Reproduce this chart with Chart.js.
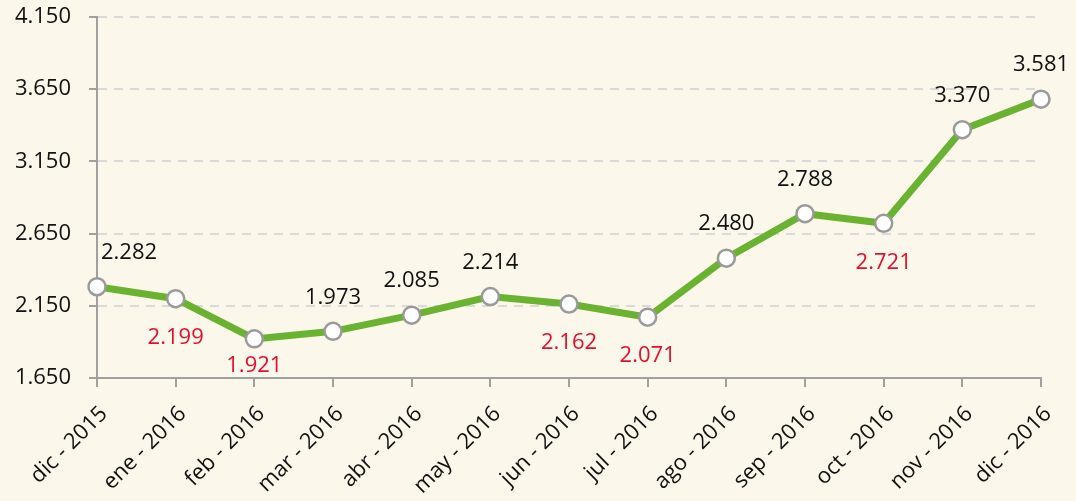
<!DOCTYPE html>
<html>
<head>
<meta charset="utf-8">
<script src="https://cdn.jsdelivr.net/npm/chart.js@4.4.1/dist/chart.umd.min.js"></script>
<style>
  html, body { margin: 0; padding: 0; background: #fbf7eb; }
  #wrap { width: 1076px; height: 501px; position: relative; }
</style>
</head>
<body>
<div id="wrap"><canvas id="myChart" width="1076" height="501"></canvas></div>
<script>
const months = ['dic - 2015', 'ene - 2016', 'feb - 2016', 'mar - 2016', 'abr - 2016', 'may - 2016',
  'jun - 2016', 'jul - 2016', 'ago - 2016', 'sep - 2016', 'oct - 2016', 'nov - 2016', 'dic - 2016'];
const values = [2282, 2199, 1921, 1973, 2085, 2214, 2162, 2071, 2480, 2788, 2721, 3370, 3581];
const yTicks = [1650, 2150, 2650, 3150, 3650, 4150];

const FONT = '"Open Sans", "DejaVu Sans", sans-serif';
const fmt = v => {
  const s = String(Math.round(v));
  return s.length > 3 ? s.slice(0, s.length - 3) + '.' + s.slice(-3) : s;
};

// value labels: black above when it went up, red below when it went down
const valueLabels = {
  id: 'valueLabels',
  afterDatasetsDraw(chart) {
    const ctx = chart.ctx;
    const meta = chart.getDatasetMeta(0);
    const area = chart.chartArea;
    ctx.save();
    ctx.font = '22px ' + FONT;
    ctx.textAlign = 'center';
    ctx.textBaseline = 'middle';
    meta.data.forEach((pt, i) => {
      const down = i > 0 && values[i] < values[i - 1];
      const txt = fmt(values[i]);
      ctx.fillStyle = down ? '#e4102a' : '#111111';
      // keep labels off the axes
      const half = ctx.measureText(txt).width / 2;
      const x = Math.max(pt.x, area.left + half + 4);
      const y = down ? Math.min(pt.y + 39, area.bottom - 12) : pt.y - 34;
      ctx.fillText(txt, x, y);
    });
    ctx.restore();
  }
};

const ctx = document.getElementById('myChart').getContext('2d');
const myChart = new Chart(ctx, {
  type: 'line',
  data: {
    labels: months,
    datasets: [{
      label: 'Serie',
      data: values,
      fill: false,
      borderColor: '#69b331',
      borderWidth: 7,
      tension: 0,
      pointRadius: 8.5,
      pointHoverRadius: 8.5,
      pointBackgroundColor: '#ffffff',
      pointBorderColor: '#9a9a9a',
      pointBorderWidth: 2.5
    }]
  },
  options: {
    responsive: false,
    animation: false,
    layout: { padding: { top: 17, right: 35, left: 0, bottom: 0 } },
    scales: {
      y: {
        min: 1650,
        max: 4150,
        afterBuildTicks: axis => { axis.ticks = yTicks.map(v => ({ value: v })); },
        afterFit: axis => { axis.width = 97; axis.paddingTop = 0; axis.paddingBottom = 0; },
        border: { color: '#a0a0a0', width: 2, dash: [9, 7] },
        grid: {
          color: '#d9d9d9',
          lineWidth: 2,
          tickBorderDash: [1, 0],
          tickColor: '#a0a0a0',
          tickLength: 8
        },
        ticks: {
          callback: v => fmt(v),
          padding: 18,
          color: '#111111',
          font: { size: 22, family: FONT }
        }
      },
      x: {
        offset: false,
        afterFit: axis => { axis.height = 123; axis.paddingTop = 0; },
        border: { color: '#a0a0a0', width: 2 },
        grid: {
          drawOnChartArea: false,
          tickColor: '#a0a0a0',
          tickLength: 9,
          lineWidth: 2
        },
        ticks: {
          minRotation: 45,
          maxRotation: 45,
          autoSkip: false,
          padding: 14,
          labelOffset: 7,
          color: '#111111',
          font: { size: 22, family: FONT }
        }
      }
    },
    plugins: {
      legend: { display: false },
      tooltip: { enabled: false }
    }
  },
  plugins: [valueLabels]
});
</script>
</body>
</html>
